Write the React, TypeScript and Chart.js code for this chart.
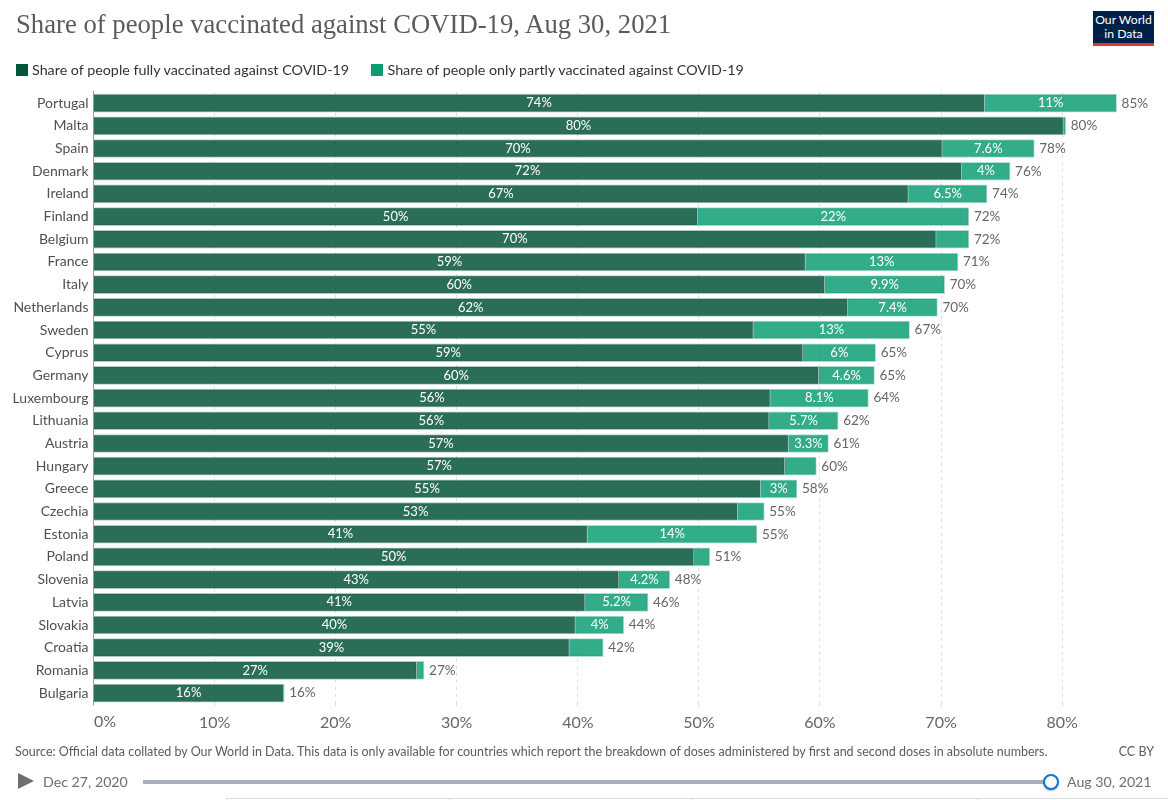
import React, { useEffect, useRef } from "react";
import { Chart, registerables } from "chart.js";

Chart.register(...registerables);

const titleText = "Share of people vaccinated against COVID-19, Aug 30, 2021";
const fullName = "Share of people fully vaccinated against COVID-19";
const partName = "Share of people only partly vaccinated against COVID-19";
const sourceText =
  "Source: Official data collated by Our World in Data. This data is only available for countries which report the breakdown of doses administered by first and second doses in absolute numbers.";

const countries = ["Portugal","Malta","Spain","Denmark","Ireland","Finland","Belgium","France","Italy","Netherlands","Sweden","Cyprus","Germany","Luxembourg","Lithuania","Austria","Hungary","Greece","Czechia","Estonia","Poland","Slovenia","Latvia","Slovakia","Croatia","Romania","Bulgaria"];
const fully = [73.6,80.1,70.1,71.7,67.3,49.9,69.6,58.8,60.4,62.3,54.5,58.6,59.9,55.9,55.8,57.4,57.1,55.1,53.2,40.8,49.6,43.4,40.6,39.8,39.3,26.7,15.7];
const partly = [10.9,0.2,7.6,4.0,6.5,22.4,2.7,12.6,9.9,7.4,12.9,6.0,4.6,8.1,5.7,3.3,2.6,3.0,2.2,14.0,1.3,4.2,5.2,4.0,2.8,0.6,0.05];
const fullLabels = ["74%","80%","70%","72%","67%","50%","70%","59%","60%","62%","55%","59%","60%","56%","56%","57%","57%","55%","53%","41%","50%","43%","41%","40%","39%","27%","16%"];
const partLabels = ["11%","","7.6%","4%","6.5%","22%","","13%","9.9%","7.4%","13%","6%","4.6%","8.1%","5.7%","3.3%","","3%","","14%","","4.2%","5.2%","4%","","",""];
const totalLabels = ["85%","80%","78%","76%","74%","72%","72%","71%","70%","70%","67%","65%","65%","64%","62%","61%","60%","58%","55%","55%","51%","48%","46%","44%","42%","27%","16%"];
const xTicks = [0,10,20,30,40,50,60,70,80];
const tabEdges = [226,449,692,977];

const barLabels = {
  id: "barLabels",
  afterDatasetsDraw(chart: any) {
    const { ctx, scales } = chart;
    const x = scales.x, y = scales.y;
    ctx.save();
    ctx.textBaseline = "middle";
    countries.forEach((_, i) => {
      const py = y.getPixelForValue(i);
      const x0 = x.getPixelForValue(0);
      const x1 = x.getPixelForValue(fully[i]);
      const x2 = x.getPixelForValue(fully[i] + partly[i]);
      ctx.font = "13px Lato";
      ctx.fillStyle = "#ffffff";
      ctx.textAlign = "center";
      ctx.fillText(fullLabels[i], (x0 + x1) / 2, py);
      if (partLabels[i]) ctx.fillText(partLabels[i], (x1 + x2) / 2, py);
      ctx.font = "13.5px Lato";
      ctx.fillStyle = "#666666";
      ctx.textAlign = "left";
      ctx.fillText(totalLabels[i], x2 + 5, py);
    });
    // the first x tick label starts at the axis instead of centring on it
    ctx.font = "16px Lato";
    ctx.fillStyle = "#666666";
    ctx.textAlign = "left";
    ctx.fillText(xTicks[0] + "%", x.getPixelForValue(xTicks[0]) + 0.5, y.bottom + 17.5);
    ctx.restore();
  },
};

const abs: React.CSSProperties = { position: "absolute", whiteSpace: "nowrap", fontFamily: "Lato", lineHeight: 1 };
const box: React.CSSProperties = { position: "absolute", top: 64, width: 12, height: 12 };

export default function App() {
  const ref = useRef<HTMLCanvasElement>(null);
  useEffect(() => {
    const chart = new Chart(ref.current!, {
      type: "bar",
      data: {
        labels: countries,
        datasets: [
          { label: fullName, data: fully, backgroundColor: "rgba(0,81,54,0.83)", borderColor: "rgba(0,81,54,0.3)", borderWidth: 1, barThickness: 18, stack: "a" },
          { label: partName, data: partly, backgroundColor: "rgba(0,151,107,0.8)", borderColor: "rgba(0,151,107,0.3)", borderWidth: 1, barThickness: 18, stack: "a" },
        ],
      },
      options: {
        indexAxis: "y",
        animation: false,
        responsive: false,
        layout: { padding: { top: 91.8, left: 0, right: 9, bottom: 60.4 } },
        plugins: {
          tooltip: { enabled: false },
          title: { display: false },
          legend: { display: false },
        },
        scales: {
          x: {
            type: "linear",
            stacked: true,
            min: 0,
            max: 88,
            position: "bottom",
            border: { display: false, dash: [3, 4] },
            grid: {
              color: "#dddddd",
              lineWidth: 1,
              drawTicks: true,
              tickLength: 2,
              tickColor: "#dddddd",
            },
            ticks: {
              stepSize: 10,
              includeBounds: false,
              maxRotation: 0,
              padding: 7,
              color: "#666666",
              font: { family: "Lato", size: 16 },
              callback: (v: any) => (v !== xTicks[0] && xTicks.includes(v) ? v + "%" : ""),
            },
          },
          y: {
            type: "category",
            stacked: true,
            border: { display: true, color: "#999999", width: 1 },
            grid: { display: false, tickLength: 0 },
            afterFit: (s: any) => { s.width = 93.5; },
            ticks: {
              autoSkip: false,
              padding: 5,
              color: "#505050",
              font: { family: "Lato", size: 14 },
            },
          },
        },
      },
      plugins: [barLabels],
    } as any);
    return () => chart.destroy();
  }, []);
  return (
    <div style={{ position: "absolute", left: 0, top: 0, width: 1168, height: 800, overflow: "hidden", background: "#fff" }}>
      <canvas ref={ref} width={1168} height={800} style={{ position: "absolute", left: 0, top: 0 }} />
      <div style={{ position: "absolute", left: 16, top: 9, whiteSpace: "nowrap", fontFamily: "Liberation Serif", fontSize: 26.7, lineHeight: "30px", color: "#5b5b5b" }}>{titleText}</div>

      <div style={{ ...box, left: 16, background: "#00573c" }} />
      <div style={{ ...abs, left: 32, top: 63, fontSize: 14.3, color: "#333333" }}>{fullName}</div>
      <div style={{ ...box, left: 370.5, background: "#0f9b72" }} />
      <div style={{ ...abs, left: 387.5, top: 63, fontSize: 14.3, color: "#333333" }}>{partName}</div>

      <div style={{ position: "absolute", left: 1093, top: 11, width: 61, height: 35, background: "#002147", borderBottom: "3.5px solid #d73c2d", boxSizing: "border-box", color: "#fff", fontFamily: "Lato", fontSize: 12.2, lineHeight: "13.5px", textAlign: "center", paddingTop: 2 }}>
        Our World<br />in Data
      </div>

      <div style={{ ...abs, left: 15, top: 746, fontSize: 12.5, color: "#5b5b5b" }}>{sourceText}</div>
      <div style={{ ...abs, right: 14, top: 746, fontSize: 12.5, color: "#5b5b5b" }}>CC BY</div>

      <div style={{ position: "absolute", left: 18, top: 773, width: 0, height: 0, borderTop: "8.5px solid transparent", borderBottom: "8.5px solid transparent", borderLeft: "16px solid #6e6e6e" }} />
      <div style={{ ...abs, left: 43, top: 775, fontSize: 14.2, color: "#6e6e6e" }}>Dec 27, 2020</div>
      <div style={{ position: "absolute", left: 143, top: 780, width: 905, height: 4, background: "#a9b0bd" }} />
      <div style={{ position: "absolute", left: 1043, top: 774, width: 16, height: 16, boxSizing: "border-box", borderRadius: "50%", background: "#fff", border: "2px solid #0f73e0", boxShadow: "0 1px 2px rgba(0,0,0,0.3)" }} />
      <div style={{ ...abs, left: 1067, top: 775, fontSize: 14.2, color: "#6e6e6e" }}>Aug 30, 2021</div>

      <div style={{ position: "absolute", left: 226, top: 798, width: 942, height: 1, background: "#dddddd" }} />
      {tabEdges.map((e) => (
        <div key={e} style={{ position: "absolute", left: e, top: 798, width: 1, height: 2, background: "#dddddd" }} />
      ))}
    </div>
  );
}
